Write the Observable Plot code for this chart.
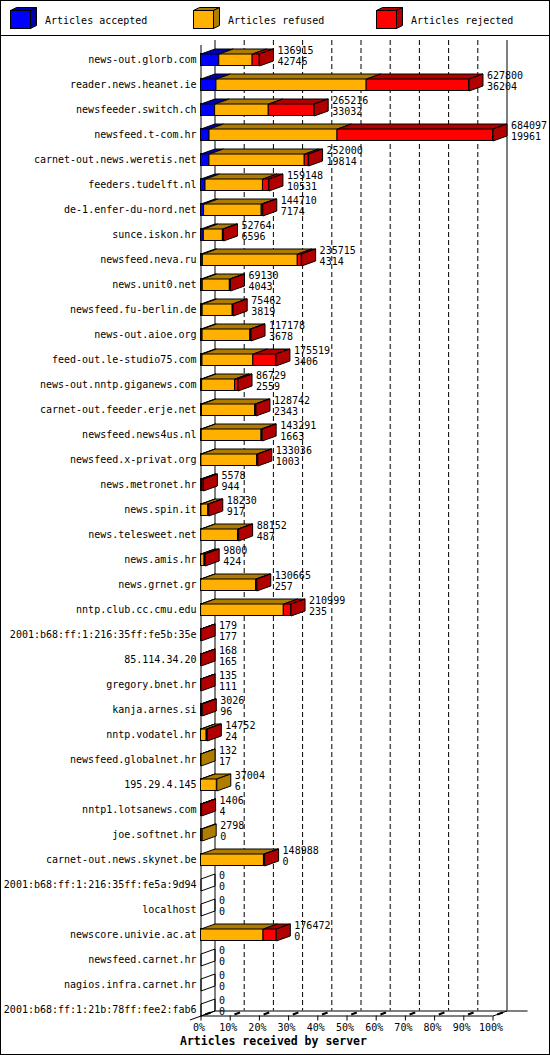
<!DOCTYPE html>
<html><head><meta charset="utf-8">
<script src="https://cdn.jsdelivr.net/npm/d3@7"></script>
<script src="https://cdn.jsdelivr.net/npm/@observablehq/plot@0.6"></script>
<style>
body{margin:0;background:#fff;}
#wrap{position:relative;width:550px;height:1055px;background:#fff;overflow:hidden;font-family:"DejaVu Sans Mono",monospace;}
#legend{position:absolute;left:0;top:0;width:550px;height:35px;}
#sep{position:absolute;left:0;top:35px;width:550px;height:1px;background:#000;}
#chart{position:absolute;left:0;top:36px;}
#title{position:absolute;left:180px;top:1034px;font-weight:bold;font-size:11.5px;line-height:14px;white-space:pre;color:#000;}
#frame{position:absolute;left:0;top:0;width:550px;height:1055px;box-sizing:border-box;border:1px solid #000;pointer-events:none;}
</style></head>
<body>
<div id="wrap">
  <div id="legend"></div>
  <div id="sep"></div>
  <div id="chart"></div>
  <div id="title">Articles received by server</div>
  <div id="frame"></div>
</div>
<script>
// ---- data ----
const servers = [
  "news-out.glorb.com","reader.news.heanet.ie","newsfeeder.switch.ch","newsfeed.t-com.hr",
  "carnet-out.news.weretis.net","feeders.tudelft.nl","de-1.enfer-du-nord.net","sunce.iskon.hr",
  "newsfeed.neva.ru","news.unit0.net","newsfeed.fu-berlin.de","news-out.aioe.org",
  "feed-out.le-studio75.com","news-out.nntp.giganews.com","carnet-out.feeder.erje.net","newsfeed.news4us.nl",
  "newsfeed.x-privat.org","news.metronet.hr","news.spin.it","news.telesweet.net",
  "news.amis.hr","news.grnet.gr","nntp.club.cc.cmu.edu","2001:b68:ff:1:216:35ff:fe5b:35e",
  "85.114.34.20","gregory.bnet.hr","kanja.arnes.si","nntp.vodatel.hr",
  "newsfeed.globalnet.hr","195.29.4.145","nntp1.lotsanews.com","joe.softnet.hr",
  "carnet-out.news.skynet.be","2001:b68:ff:1:216:35ff:fe5a:9d94","localhost","newscore.univie.ac.at",
  "newsfeed.carnet.hr","nagios.infra.carnet.hr","2001:b68:ff:1:21b:78ff:fee2:fab6"
];
const offered = [
  136915,627800,265216,684097,252000,159148,144710,52764,
  235715,69130,75462,117178,175519,86729,128742,143291,
  133036,5578,18230,88152,9800,130665,210999,179,
  168,135,3026,14752,132,37004,1406,2798,
  148988,0,0,176472,0,0,0
];
const accepted = [
  42746,36204,33032,19961,19814,10531,7174,6596,
  4314,4043,3819,3678,3406,2559,2343,1663,
  1003,944,917,487,424,257,235,177,
  165,111,96,24,17,6,4,0,
  0,0,0,0,0,0,0
];
const refused = [
  78169,351896,125684,299836,223186,134617,135036,44668,
  222401,63587,70443,112000,119113,77170,124399,140128,
  130533,1634,16313,86165,7876,128908,193764,0,
  0,0,2000,13228,115,36998,702,2798,
  147488,0,0,146472,0,0,0
];
const rejected = [
  16000,239700,106500,364300,9000,14000,2500,1500,
  9000,1500,1200,1500,53000,7000,2000,1500,
  1500,3000,1000,1500,1500,1500,17000,2,
  3,24,930,1500,0,0,700,0,
  1500,0,0,30000,0,0,0
];
const pctTicks = [0,10,20,30,40,50,60,70,80,90,100];
const tickLabels = ["0%","10%","20%","30%","40%","50%","60%","70%","80%","90%","100%"];
const seriesNames = ["Articles accepted","Articles refused","Articles rejected"];
const frontColors = ["#0000ff","#ffb000","#ff0000"];
const darkColors = ["#0000b0","#b07c00","#b00000"];

// ---- layout constants (pixels) ----
const X0 = 200.5, X100 = 492.5, ROW = 25, ROW0 = 23.5;
const pxPerPct = (X100 - X0) / 100;
const DX = 14 / pxPerPct;     // depth in x units
const DY = 5 / ROW;           // depth in row units
const H = 6 / ROW;            // half face height in row units
const n = servers.length;
const TOPB = (4 - ROW0) / ROW;          // back wall top
const FLOORF = (n - 1) + H;             // front floor
const FLOORB = FLOORF - DY;             // back floor
const LABY = (991 - ROW0) / ROW;

const maxTotal = d3.max(offered);
const pct = v => v / maxTotal * 100;

// ---- build faces ----
const fronts = [];
const polys = [];
const rows = [];
let pid = 0;
function addPoly(pts, fill) {
  const id = pid++;
  pts.forEach(([x, y]) => polys.push({id, x, y, fill}));
}
for (let i = 0; i < n; i++) {
  const vals = [accepted[i], refused[i], rejected[i]];
  let x0 = 0, last = -1;
  vals.forEach((v, k) => {
    if (v > 0) {
      const x1 = x0 + pct(v);
      fronts.push({i, x1: x0, x2: x1, fill: frontColors[k]});
      addPoly([[x0, i - H], [x1, i - H], [x1 + DX, i - H - DY], [x0 + DX, i - H - DY], [x0, i - H]], darkColors[k]);
      x0 = x1; last = k;
    }
  });
  addPoly([[x0, i - H], [x0 + DX, i - H - DY], [x0 + DX, i + H - DY], [x0, i + H], [x0, i - H]],
          last >= 0 ? darkColors[last] : "none");
  rows.push({i, end: x0, offered: offered[i], accepted: accepted[i]});
}

const gridPct = pctTicks.slice(1, -1);

const chart = Plot.plot({
  width: 550,
  height: 1000,
  marginLeft: 201,
  marginRight: 43,
  marginTop: 0,
  marginBottom: 0,
  x: {domain: [0, 100], range: [X0, X100], axis: null},
  y: {type: "linear", domain: [0, n - 1], range: [ROW0, ROW0 + ROW * (n - 1)]},
  style: {fontFamily: "DejaVu Sans Mono", fontSize: "10px", background: "transparent", color: "#000"},
  marks: [
    // back wall grid
    Plot.ruleX(gridPct, {x: d => d + DX, y1: TOPB, y2: FLOORB, stroke: "#000", strokeWidth: 1, strokeDasharray: "5,3"}),
    Plot.ruleX([0, 100], {x: d => d + DX, y1: TOPB, y2: FLOORB, stroke: "#000", strokeWidth: 1}),
    // front axis & floor
    Plot.ruleX([0], {x: d => d, y1: TOPB + DY, y2: FLOORF, stroke: "#000", strokeWidth: 1}),
    Plot.ruleY([FLOORF], {y: d => d, x1: 0, x2: 100, stroke: "#000", strokeWidth: 1}),
    Plot.ruleY([FLOORB], {y: d => d, x1: DX, x2: 112, stroke: "#000", strokeWidth: 1}),
    Plot.link([0], {x1: d => d - 3.8, y1: FLOORF + 0.16, x2: d => d + DX, y2: FLOORB, stroke: "#000", strokeWidth: 1}),
    Plot.link([100], {x1: d => d, y1: FLOORF, x2: d => d + DX, y2: FLOORB, stroke: "#000", strokeWidth: 1}),
    // ticks
    Plot.ruleX(pctTicks, {x: d => d, y1: FLOORF, y2: FLOORF + 0.2, stroke: "#000", strokeWidth: 1}),
    Plot.link(pctTicks, {x1: d => d + DX * 0.3, y1: FLOORF - DY * 0.3, x2: d => d + DX * 0.7, y2: FLOORF - DY * 0.7, stroke: "#000", strokeWidth: 2}),
    Plot.text(pctTicks, {x: d => d, y: LABY, text: (d, j) => tickLabels[j], dx: -2, fill: "#000"}),
    // bars
    Plot.rect(fronts, {x1: "x1", x2: "x2", y1: d => d.i - H, y2: d => d.i + H, fill: "fill", stroke: "#000", strokeWidth: 1}),
    Plot.line(polys, {x: "x", y: "y", z: "id", fill: "fill", stroke: "#000", strokeWidth: 1, strokeLinejoin: "miter", strokeLinecap: "butt"}),
    // value labels
    Plot.text(rows, {x: "end", y: "i", text: d => String(d.offered), dx: 18, dy: -9, textAnchor: "start", fill: "#000"}),
    Plot.text(rows, {x: "end", y: "i", text: d => String(d.accepted), dx: 18, dy: 2, textAnchor: "start", fill: "#000"}),
    // server names
    Plot.axisY({ticks: d3.range(n), tickFormat: i => servers[i], tickSize: 0, tickPadding: 5, label: null, fill: "#000"})
  ]
});
document.getElementById("chart").appendChild(chart);

// ---- legend ----
const lg = d3.select("#legend").append("svg").attr("width", 550).attr("height", 35)
  .style("font-family", "DejaVu Sans Mono").style("font-size", "10px");
const legendX = [10.5, 193.5, 376.5];
seriesNames.forEach((name, k) => {
  const bx = legendX[k], by = 10.5, w = 20, h = 18, dx = 6, dy = 3;
  const g = lg.append("g");
  g.append("rect").attr("x", bx).attr("y", by).attr("width", w).attr("height", h)
    .attr("fill", frontColors[k]).attr("stroke", "#000");
  g.append("path").attr("d", `M${bx},${by}L${bx + w},${by}L${bx + w + dx},${by - dy}L${bx + dx},${by - dy}Z`)
    .attr("fill", darkColors[k]).attr("stroke", "#000");
  g.append("path").attr("d", `M${bx + w},${by}L${bx + w + dx},${by - dy}L${bx + w + dx},${by + h - dy}L${bx + w},${by + h}Z`)
    .attr("fill", darkColors[k]).attr("stroke", "#000");
  g.append("text").attr("x", bx + 34.5).attr("y", 20).attr("dy", "0.35em").text(name);
});
</script>
</body></html>
